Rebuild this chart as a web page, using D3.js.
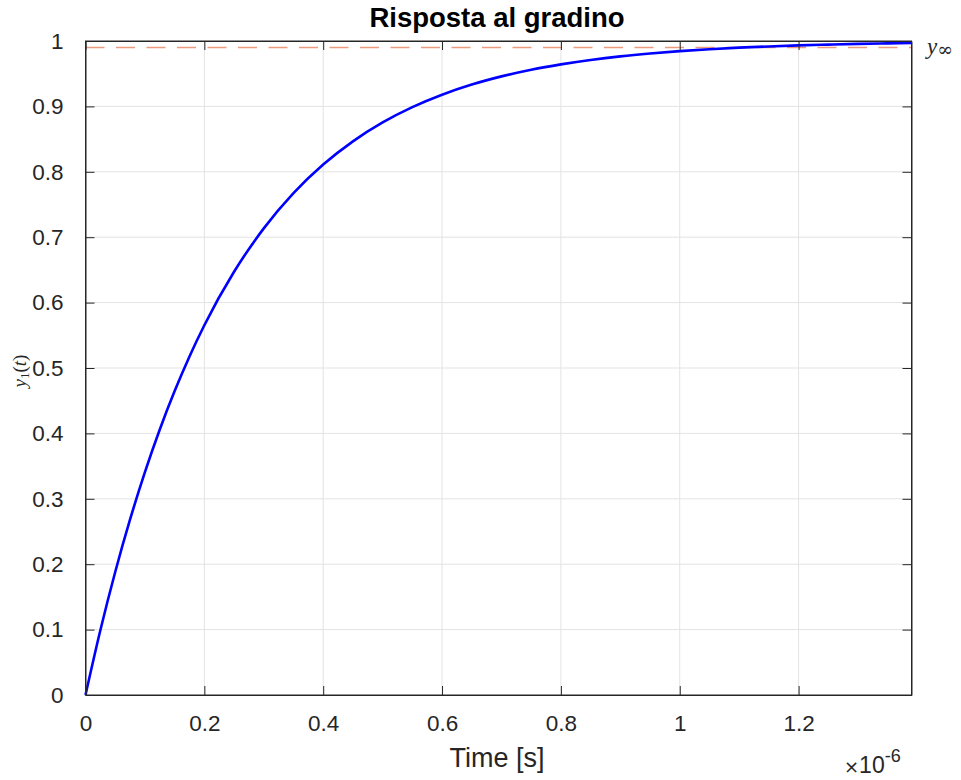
<!DOCTYPE html>
<html>
<head>
<meta charset="utf-8">
<script src="https://cdn.jsdelivr.net/npm/d3@7"></script>
<style>
  html, body { margin: 0; padding: 0; background: #ffffff; }
  svg { display: block; }
</style>
</head>
<body>
<div id="chart"></div>
<script>
// Step response y1(t) of a first-order system, time in units of 1e-6 s
const timeUs = [0, 0.025, 0.05, 0.075, 0.10, 0.125, 0.15, 0.175, 0.20, 0.25, 0.30, 0.35,
  0.40, 0.45, 0.50, 0.55, 0.60, 0.65, 0.70, 0.75, 0.80, 0.85, 0.90, 0.95,
  1.00, 1.05, 1.10, 1.15, 1.20, 1.25, 1.30, 1.35, 1.39];
const response = [0, 0.0990, 0.1881, 0.2684, 0.3408, 0.4060, 0.4647, 0.5177, 0.5654, 0.6471, 0.7135, 0.7674,
  0.8111, 0.8466, 0.8755, 0.8989, 0.9179, 0.9334, 0.9459, 0.9561, 0.9643, 0.9710, 0.9765, 0.9809,
  0.9845, 0.9874, 0.9898, 0.9917, 0.9933, 0.9945, 0.9956, 0.9964, 0.9970];
const steadyState = [0.99];
const xTicks = [0, 0.2, 0.4, 0.6, 0.8, 1, 1.2];
const yTicks = [0, 0.1, 0.2, 0.3, 0.4, 0.5, 0.6, 0.7, 0.8, 0.9, 1];
const xMax = 1.39;

(function () {
  const W = 961, H = 780;
  const mL = 85.5, mR = 911.5, mT = 41, mB = 695;

  const svg = d3.select("#chart").append("svg")
    .attr("width", W).attr("height", H);

  const x = d3.scaleLinear().domain([0, xMax]).range([mL, mR]);
  const y = d3.scaleLinear().domain([0, 1]).range([mB, mT]);

  const axisColor = "#262626";
  const gridColor = "#e3e3e3";
  const sans = "'Liberation Sans', Arial, Helvetica, sans-serif";
  const serif = "'Liberation Serif', 'Times New Roman', serif";

  // grid
  const grid = svg.append("g");
  grid.selectAll(".gx").data(xTicks.filter(d => d > 0)).join("line")
    .attr("x1", d => x(d)).attr("x2", d => x(d))
    .attr("y1", mT).attr("y2", mB)
    .attr("stroke", gridColor).attr("stroke-width", 1);
  grid.selectAll(".gy").data(yTicks.filter(d => d > 0 && d < 1)).join("line")
    .attr("x1", mL).attr("x2", mR)
    .attr("y1", d => y(d)).attr("y2", d => y(d))
    .attr("stroke", gridColor).attr("stroke-width", 1);

  // dashed steady-state level
  svg.selectAll(".ss").data(steadyState).join("line")
    .attr("x1", mL).attr("x2", mR)
    .attr("y1", d => y(d)).attr("y2", d => y(d))
    .attr("stroke", "#ec9c7c").attr("stroke-width", 1.6)
    .attr("stroke-dasharray", "19,11.5");

  // response curve
  const pts = timeUs.map((t, i) => [t, response[i]]);
  svg.append("path")
    .datum(pts)
    .attr("fill", "none")
    .attr("stroke", "#0000ff")
    .attr("stroke-width", 2.6)
    .attr("stroke-linejoin", "round")
    .attr("d", d3.line().x(d => x(d[0])).y(d => y(d[1])).curve(d3.curveMonotoneX));

  // axes with inward ticks
  const tickLen = 9;
  const styleAxis = g => {
    g.select(".domain").attr("stroke", axisColor);
    g.selectAll(".tick line").attr("stroke", axisColor);
    g.selectAll(".tick text").attr("fill", axisColor)
      .attr("font-family", sans).attr("font-size", 22.5);
  };

  const fmt = d => d3.format("~g")(d);

  svg.append("g").attr("transform", `translate(0,${mB})`)
    .call(d3.axisBottom(x).tickValues(xTicks).tickFormat(fmt).tickSizeInner(-tickLen).tickSizeOuter(0).tickPadding(20))
    .call(styleAxis);
  svg.append("g").attr("transform", `translate(0,${mT})`)
    .call(d3.axisTop(x).tickValues(xTicks).tickFormat("").tickSizeInner(-tickLen).tickSizeOuter(0))
    .call(styleAxis);
  svg.append("g").attr("transform", `translate(${mL},0)`)
    .call(d3.axisLeft(y).tickValues(yTicks).tickFormat(fmt).tickSizeInner(-tickLen).tickSizeOuter(0).tickPadding(22))
    .call(styleAxis);
  svg.append("g").attr("transform", `translate(${mR},0)`)
    .call(d3.axisRight(y).tickValues(yTicks).tickFormat("").tickSizeInner(-tickLen).tickSizeOuter(0))
    .call(styleAxis);

  // box
  svg.append("rect")
    .attr("x", mL).attr("y", mT)
    .attr("width", mR - mL).attr("height", mB - mT)
    .attr("fill", "none").attr("stroke", axisColor).attr("stroke-width", 1);

  // title
  svg.append("text")
    .attr("x", 497).attr("y", 27)
    .attr("text-anchor", "middle")
    .attr("font-family", sans).attr("font-weight", "bold").attr("font-size", 27.5)
    .attr("fill", "#000")
    .text("Risposta al gradino");

  // x label
  svg.append("text")
    .attr("x", 497).attr("y", 767)
    .attr("text-anchor", "middle")
    .attr("font-family", sans).attr("font-size", 27)
    .attr("fill", axisColor)
    .text("Time [s]");

  // exponent
  const expo = svg.append("text")
    .attr("x", 844).attr("y", 773)
    .attr("font-family", sans).attr("font-size", 23)
    .attr("fill", axisColor);
  expo.append("tspan").text("×").attr("font-family", "'DejaVu Sans', sans-serif").attr("font-size", 18);
  expo.append("tspan").text("10");
  expo.append("tspan").text("-6").attr("font-size", 18).attr("dy", -11);

  // y label
  const yl = svg.append("text")
    .attr("transform", "translate(26,371) rotate(-90)")
    .attr("text-anchor", "middle")
    .attr("font-family", serif).attr("font-size", 19)
    .attr("fill", axisColor);
  yl.append("tspan").attr("font-style", "italic").text("y");
  yl.append("tspan").attr("font-size", 13).attr("dy", 3).text("1");
  yl.append("tspan").attr("dy", -3).text("(");
  yl.append("tspan").attr("font-style", "italic").text("t");
  yl.append("tspan").text(")");

  // steady-state label
  const yi = svg.append("text")
    .attr("x", 927).attr("y", y(steadyState[0]) + 6)
    .attr("font-family", serif).attr("font-size", 23)
    .attr("fill", axisColor);
  yi.append("tspan").attr("font-style", "italic").text("y");
  yi.append("tspan").attr("font-family", "'DejaVu Serif', serif").attr("font-size", 19).attr("dy", 2).text("∞");
})();
</script>
</body>
</html>
